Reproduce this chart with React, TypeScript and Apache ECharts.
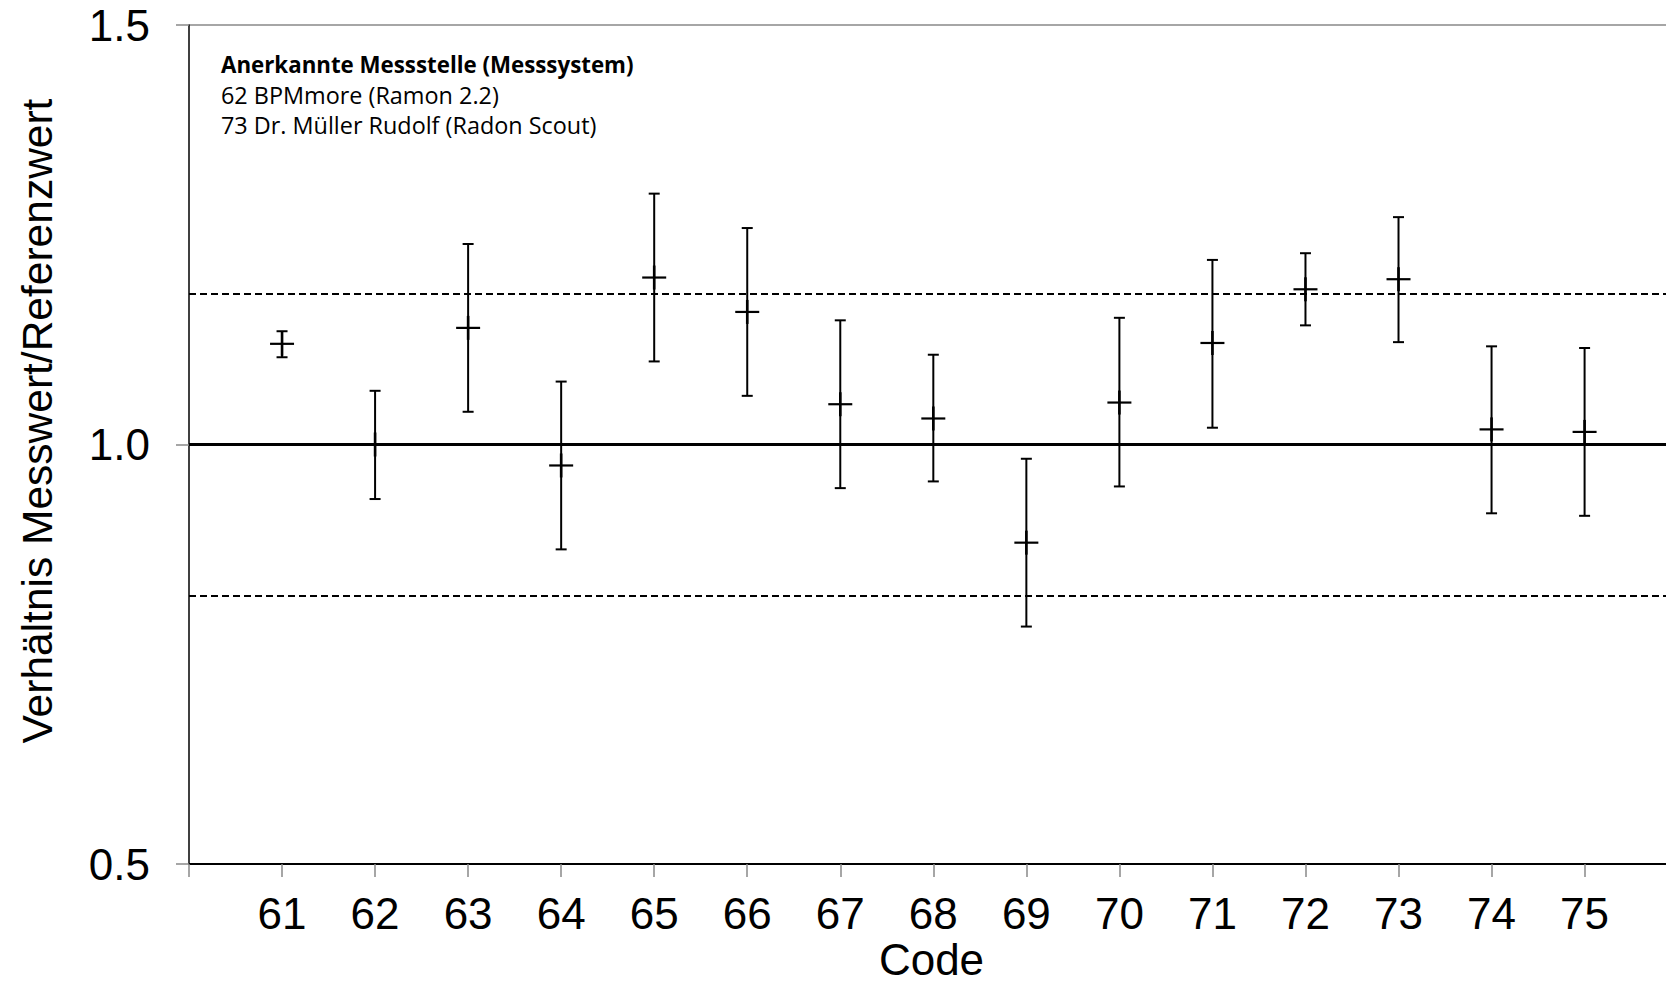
import React, { useEffect, useRef } from "react";
import * as echarts from "echarts";

// ---- data ----
const codes = [61, 62, 63, 64, 65, 66, 67, 68, 69, 70, 71, 72, 73, 74, 75];
const ratio = [1.12, 1.0, 1.139, 0.975, 1.199, 1.158, 1.048, 1.031, 0.883, 1.05, 1.121, 1.185, 1.197, 1.018, 1.015];
const lower = [1.104, 0.935, 1.039, 0.875, 1.099, 1.058, 0.948, 0.956, 0.783, 0.95, 1.02, 1.142, 1.122, 0.918, 0.915];
const upper = [1.135, 1.064, 1.239, 1.075, 1.299, 1.258, 1.148, 1.107, 0.983, 1.151, 1.22, 1.228, 1.271, 1.117, 1.115];
const referenceValue = 1.0;
const limitValues = [0.82, 1.18];
const yTicks = [0.5, 1.0, 1.5];
const xRange = [60, 75.875]; // the original picture is cut off just before 76
const legendTitle = "Anerkannte Messstelle (Messsystem)";
const legendLines = ["62 BPMmore (Ramon 2.2)", "73 Dr. Müller Rudolf (Radon Scout)"];
const yTitle = "Verhältnis Messwert/Referenzwert";
const xTitle = "Code";

const AX_FONT = '"Liberation Sans", Arial, sans-serif';
const NOTE_FONT = '"Open Sans", "Noto Sans", sans-serif';

export default function App() {
  const ref = useRef<HTMLDivElement>(null);

  useEffect(() => {
    document.documentElement.style.margin = "0";
    document.documentElement.style.overflow = "hidden";
    document.body.style.margin = "0";
    document.body.style.overflow = "hidden";
    if (!ref.current) return;
    const chart = echarts.init(ref.current, undefined, { renderer: "svg" });

    const data = codes.map((c, i) => [c, ratio[i], lower[i], upper[i]]);

    const option: any = {
      animation: false,
      backgroundColor: "#fff",
      grid: { left: 189, top: 25, right: 0, height: 839, containLabel: false },
      xAxis: {
        type: "value",
        min: xRange[0],
        max: xRange[1],
        interval: 1,
        axisLine: { show: true, onZero: false, lineStyle: { color: "#000", width: 2 } },
        axisTick: { show: true, length: 13, lineStyle: { color: "#888", width: 1.5 } },
        axisLabel: {
          formatter: (v: number) => (codes.indexOf(v) >= 0 ? String(v) : ""),
          fontSize: 44,
          lineHeight: 34,
          fontFamily: AX_FONT,
          color: "#000",
          margin: 32,
          showMaxLabel: false,
        },
        splitLine: { show: false },
      },
      yAxis: {
        type: "value",
        min: yTicks[0],
        max: yTicks[yTicks.length - 1],
        interval: 0.5,
        axisLine: { show: true, lineStyle: { color: "#000", width: 1.5 } },
        axisTick: { show: true, length: 13, lineStyle: { color: "#888", width: 1.5 } },
        axisLabel: {
          formatter: (v: number) => v.toFixed(1),
          fontSize: 44,
          fontFamily: AX_FONT,
          color: "#000",
          margin: 39,
        },
        splitLine: { show: true, lineStyle: { color: "#888", width: 1.5 } },
      },
      graphic: [
        {
          type: "text",
          x: 37,
          y: 421,
          rotation: Math.PI / 2,
          style: {
            text: yTitle,
            fontSize: 42.5,
            fontFamily: AX_FONT,
            fill: "#000",
            align: "center",
            verticalAlign: "middle",
          },
        },
        {
          type: "text",
          x: 931.5,
          y: 959,
          style: {
            text: xTitle,
            fontSize: 44,
            lineHeight: 34,
            fontFamily: AX_FONT,
            fill: "#000",
            align: "center",
            verticalAlign: "middle",
          },
        },
        {
          type: "text",
          x: 221,
          y: 64,
          style: {
            text: legendTitle,
            fontSize: 22.3,
            fontWeight: "bold",
            fontFamily: NOTE_FONT,
            fill: "#000",
            align: "left",
            verticalAlign: "middle",
          },
        },
        ...legendLines.map((t, i) => ({
          type: "text",
          x: 221,
          y: 94.6 + i * 30.8,
          style: {
            text: t,
            fontSize: 23.4,
            fontFamily: NOTE_FONT,
            fill: "#000",
            align: "left",
            verticalAlign: "middle",
          },
        })),
      ],
      series: [
        {
          type: "custom",
          data,
          encode: { x: 0, y: [1, 2, 3] },
          clip: false,
          silent: true,
          renderItem: (params: any, api: any) => {
            const x = api.value(0);
            const pc = api.coord([x, api.value(1)]);
            const pl = api.coord([x, api.value(2)]);
            const ph = api.coord([x, api.value(3)]);
            const st = { stroke: "#000", lineWidth: 2 };
            const cap = 5.5;
            const m = 12;
            return {
              type: "group",
              children: [
                { type: "line", shape: { x1: pl[0], y1: pl[1], x2: ph[0], y2: ph[1] }, style: st },
                { type: "line", shape: { x1: ph[0] - cap, y1: ph[1], x2: ph[0] + cap, y2: ph[1] }, style: st },
                { type: "line", shape: { x1: pl[0] - cap, y1: pl[1], x2: pl[0] + cap, y2: pl[1] }, style: st },
                { type: "line", shape: { x1: pc[0] - m, y1: pc[1], x2: pc[0] + m, y2: pc[1] }, style: { stroke: "#000", lineWidth: 2.2 } },
                { type: "line", shape: { x1: pc[0], y1: pc[1] - m, x2: pc[0], y2: pc[1] + m }, style: { stroke: "#000", lineWidth: 2.6 } },
              ],
            };
          },
          markLine: {
            silent: true,
            symbol: ["none", "none"],
            label: { show: false },
            data: [
              { yAxis: referenceValue, lineStyle: { type: "solid", width: 3, color: "#000" } },
              ...limitValues.map((v) => ({ yAxis: v, lineStyle: { type: [7, 4], width: 2, color: "#000" } })),
            ],
          },
        },
      ],
    };

    chart.setOption(option);
    return () => chart.dispose();
  }, []);

  return <div ref={ref} style={{ width: 1666, height: 982, background: "#fff" }} />;
}
